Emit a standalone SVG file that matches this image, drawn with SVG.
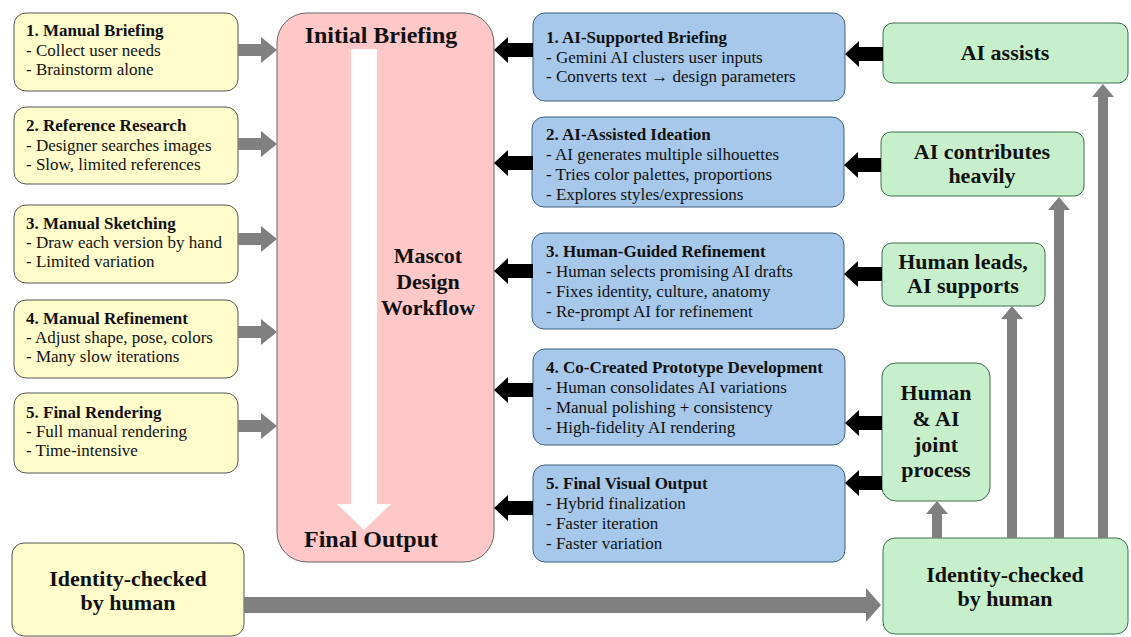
<svg xmlns="http://www.w3.org/2000/svg" width="1131" height="637" viewBox="0 0 1131 637">
<defs>
<style>
text{font-family:"Liberation Serif","Times New Roman",serif;fill:#111}
.y{fill:#FFFDCC;stroke:#555;stroke-width:1}
.b{fill:#A6C8EA;stroke:#3f5f7f;stroke-width:1}
.g{fill:#C6F0CC;stroke:#3f6f4f;stroke-width:1}
.p{fill:#FFC8C8;stroke:#666;stroke-width:1}
.t{font-size:17px;font-weight:bold}
.l{font-size:17px}
.c{font-size:22px;font-weight:bold;text-anchor:middle}
.h{font-size:24px;font-weight:bold;text-anchor:middle}
.ga{fill:#808080}
.ba{fill:#000}
</style>
</defs>
<rect width="1131" height="637" fill="#fff"/>

<g id="workflow">
<rect class="p" x="277" y="13" width="217" height="549" rx="30"/>
<path d="M351 49 H377 V504 H391 L364 530 L337 504 H351 Z" fill="#fff"/>
<text class="h" x="381" y="43">Initial Briefing</text>
<text class="h" x="371" y="547">Final Output</text>
<text class="c" x="428" y="263">Mascot</text>
<text class="c" x="428" y="289">Design</text>
<text class="c" x="428" y="315">Workflow</text>
</g>

<g id="manual1">
<rect class="y" x="14" y="13" width="224" height="78" rx="12"/>
<text class="t" x="26" y="36">1. Manual Briefing</text>
<text class="l" x="26" y="56">- Collect user needs</text>
<text class="l" x="26" y="75">- Brainstorm alone</text>
</g>
<g id="manual2">
<rect class="y" x="14" y="107" width="224" height="77" rx="12"/>
<text class="t" x="26" y="131">2. Reference Research</text>
<text class="l" x="26" y="151">- Designer searches images</text>
<text class="l" x="26" y="170">- Slow, limited references</text>
</g>
<g id="manual3">
<rect class="y" x="14" y="205" width="224" height="78" rx="12"/>
<text class="t" x="26" y="229">3. Manual Sketching</text>
<text class="l" x="26" y="248">- Draw each version by hand</text>
<text class="l" x="26" y="267">- Limited variation</text>
</g>
<g id="manual4">
<rect class="y" x="14" y="300" width="224" height="78" rx="12"/>
<text class="t" x="26" y="324">4. Manual Refinement</text>
<text class="l" x="26" y="343">- Adjust shape, pose, colors</text>
<text class="l" x="26" y="362">- Many slow iterations</text>
</g>
<g id="manual5">
<rect class="y" x="14" y="393" width="224" height="80" rx="12"/>
<text class="t" x="26" y="418">5. Final Rendering</text>
<text class="l" x="26" y="437">- Full manual rendering</text>
<text class="l" x="26" y="456">- Time-intensive</text>
</g>
<g id="identity-left">
<rect class="y" x="12" y="543" width="232" height="93" rx="12"/>
<text class="c" x="128" y="586">Identity-checked</text>
<text class="c" x="128" y="610">by human</text>
</g>

<g id="ai1">
<rect class="b" x="533" y="13" width="312" height="88" rx="12"/>
<text class="t" x="546" y="43">1. AI-Supported Briefing</text>
<text class="l" x="546" y="63">- Gemini AI clusters user inputs</text>
<text class="l" x="546" y="82">- Converts text → design parameters</text>
</g>
<g id="ai2">
<rect class="b" x="532" y="117" width="312" height="90" rx="12"/>
<text class="t" x="546" y="140">2. AI-Assisted Ideation</text>
<text class="l" x="546" y="160">- AI generates multiple silhouettes</text>
<text class="l" x="546" y="180">- Tries color palettes, proportions</text>
<text class="l" x="546" y="200">- Explores styles/expressions</text>
</g>
<g id="ai3">
<rect class="b" x="532" y="233" width="312" height="96" rx="12"/>
<text class="t" x="546" y="257">3. Human-Guided Refinement</text>
<text class="l" x="546" y="277">- Human selects promising AI drafts</text>
<text class="l" x="546" y="297">- Fixes identity, culture, anatomy</text>
<text class="l" x="546" y="317">- Re-prompt AI for refinement</text>
</g>
<g id="ai4">
<rect class="b" x="533" y="349" width="312" height="96" rx="12"/>
<text class="t" x="546" y="373">4. Co-Created Prototype Development</text>
<text class="l" x="546" y="393">- Human consolidates AI variations</text>
<text class="l" x="546" y="413">- Manual polishing + consistency</text>
<text class="l" x="546" y="433">- High-fidelity AI rendering</text>
</g>
<g id="ai5">
<rect class="b" x="533" y="465" width="312" height="97" rx="12"/>
<text class="t" x="546" y="489">5. Final Visual Output</text>
<text class="l" x="546" y="509">- Hybrid finalization</text>
<text class="l" x="546" y="529">- Faster iteration</text>
<text class="l" x="546" y="549">- Faster variation</text>
</g>

<g id="ai-assists">
<rect class="g" x="883" y="23" width="245" height="60" rx="10"/>
<text class="c" x="1005" y="60">AI assists</text>
</g>
<g id="ai-contributes">
<rect class="g" x="881" y="132" width="203" height="64" rx="10"/>
<text class="c" x="982" y="159">AI contributes</text>
<text class="c" x="982" y="183">heavily</text>
</g>
<g id="human-leads">
<rect class="g" x="882" y="243" width="163" height="63" rx="10"/>
<text class="c" x="963" y="269">Human leads,</text>
<text class="c" x="963" y="293">AI supports</text>
</g>
<g id="joint">
<rect class="g" x="882" y="363" width="108" height="138" rx="14"/>
<text class="c" x="936" y="400">Human</text>
<text class="c" x="936" y="426">&amp; AI</text>
<text class="c" x="936" y="452">joint</text>
<text class="c" x="936" y="477">process</text>
</g>
<g id="identity-right">
<rect class="g" x="883" y="538" width="245" height="96" rx="12"/>
<text class="c" x="1005" y="582">Identity-checked</text>
<text class="c" x="1005" y="606">by human</text>
</g>

<g id="connectors">
<!-- grey arrows from manual boxes -->
<path class="ga" d="M238 44 H261 V37 L277 50 L261 63 V56 H238 Z"/>
<path class="ga" d="M238 138 H261 V131 L277 144 L261 157 V150 H238 Z"/>
<path class="ga" d="M238 233 H261 V226 L277 239 L261 252 V245 H238 Z"/>
<path class="ga" d="M238 326 H261 V319 L277 332 L261 345 V338 H238 Z"/>
<path class="ga" d="M238 420 H261 V413 L277 426 L261 439 V432 H238 Z"/>
<!-- black arrows blue to pink -->
<path class="ba" d="M533 43 H508 V37 L494 50 L508 63 V57 H533 Z"/>
<path class="ba" d="M533 156 H508 V150 L494 163 L508 176 V170 H533 Z"/>
<path class="ba" d="M533 264 H508 V258 L494 271 L508 284 V278 H533 Z"/>
<path class="ba" d="M533 383 H508 V377 L494 390 L508 403 V397 H533 Z"/>
<path class="ba" d="M533 501 H508 V495 L494 508 L508 521 V515 H533 Z"/>
<!-- black arrows green to blue -->
<path class="ba" d="M883 47 H859 V41 L845 54 L859 67 V61 H883 Z"/>
<path class="ba" d="M881 158 H858 V152 L844 165 L858 178 V172 H881 Z"/>
<path class="ba" d="M882 267 H858 V261 L844 274 L858 287 V281 H882 Z"/>
<path class="ba" d="M882 416 H859 V410 L845 423 L859 436 V430 H882 Z"/>
<path class="ba" d="M882 476 H859 V470 L845 483 L859 496 V490 H882 Z"/>
<!-- bottom grey arrow -->
<path class="ga" d="M244 597 H866 V588 L881 605 L866 622 V613 H244 Z"/>
<!-- vertical grey arrows -->
<path class="ga" d="M932 538 V514 H926 L937 501 L948 514 H942 V538 Z"/>
<path class="ga" d="M1007 538 V319 H1001 L1012 306 L1023 319 H1017 V538 Z"/>
<path class="ga" d="M1054 538 V210 H1048 L1059 197 L1070 210 H1064 V538 Z"/>
<path class="ga" d="M1098 538 V97 H1092 L1103 84 L1114 97 H1108 V538 Z"/>
</g>
</svg>
